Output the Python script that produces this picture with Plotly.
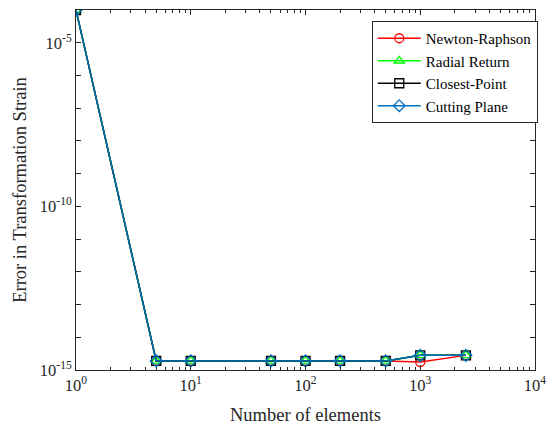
import plotly.graph_objects as go

elements = [1, 5, 10, 50, 100, 200, 500, 1000, 2500]
newton_raphson = [1e-4, 1.9e-15, 1.9e-15, 1.9e-15, 1.9e-15, 1.9e-15, 1.9e-15, 1.75e-15, 2.8e-15]
radial_return = [1e-4, 1.9e-15, 1.9e-15, 1.9e-15, 1.9e-15, 1.9e-15, 1.9e-15, 2.8e-15, 2.8e-15]
closest_point = [1e-4, 1.9e-15, 1.9e-15, 1.9e-15, 1.9e-15, 1.9e-15, 1.9e-15, 2.8e-15, 2.8e-15]
cutting_plane = [1e-4, 1.9e-15, 1.9e-15, 1.9e-15, 1.9e-15, 1.9e-15, 1.9e-15, 2.8e-15, 2.8e-15]

series = [
    ("Newton-Raphson", newton_raphson, "#ff0000", "circle-open"),
    ("Radial Return", radial_return, "#00ff00", "triangle-up-open"),
    ("Closest-Point", closest_point, "#000000", "square-open"),
    ("Cutting Plane", cutting_plane, "#0072bd", "diamond-open"),
]

fig = go.Figure()
for name, ys, color, sym in series:
    fig.add_trace(go.Scatter(
        x=elements, y=ys, name=name, mode="lines+markers",
        line=dict(color=color, width=1.5),
        marker=dict(symbol=sym, size=9, color=color, line=dict(width=1.3, color=color)),
    ))

font = "Liberation Serif, Times New Roman, serif"
ytick_vals = [10.0 ** e for e in range(-15, -3)]
ytick_text = ["10<sup>%d</sup>" % e if e in (-15, -10, -5) else "" for e in range(-15, -3)]
xtick_vals = [10.0 ** e for e in range(0, 5)]
xtick_text = ["10<sup>%d</sup>" % e for e in range(0, 5)]
xminor = [m * 10.0 ** e for e in range(0, 4) for m in range(2, 10)]

fig.update_layout(
    width=555, height=432,
    margin=dict(l=76, r=15, t=9, b=62),
    paper_bgcolor="white", plot_bgcolor="white",
    font=dict(family=font, size=16, color="#262626"),
    showlegend=True,
    legend=dict(
        x=1.006, y=0.9695, xanchor="right", yanchor="top",
        bordercolor="#262626", borderwidth=1, bgcolor="white",
        font=dict(family=font, size=15, color="#000000"),
        tracegroupgap=0, itemwidth=43,
    ),
    xaxis=dict(
        type="log", range=[0, 4],
        tickmode="array", tickvals=xtick_vals, ticktext=xtick_text,
        ticks="inside", ticklen=5, tickcolor="#262626",
        showline=True, linecolor="#262626", linewidth=1, mirror="allticks",
        showgrid=False, zeroline=False,
        minor=dict(tickvals=xminor, ticks="inside", ticklen=3, tickcolor="#262626", showgrid=False),
        title=dict(text="Number of elements", font=dict(family=font, size=18.5, color="#262626"), standoff=14),
        tickfont=dict(family=font, size=16.5, color="#262626"),
    ),
    yaxis=dict(
        type="log", range=[-15, -4],
        tickmode="array", tickvals=ytick_vals, ticktext=ytick_text,
        ticks="inside", ticklen=5, tickcolor="#262626",
        showline=True, linecolor="#262626", linewidth=1, mirror="allticks",
        showgrid=False, zeroline=False,
        title=dict(text="Error in Transformation Strain", font=dict(family=font, size=18.5, color="#262626"), standoff=8),
        tickfont=dict(family=font, size=16.5, color="#262626"),
    ),
)

fig.write_html("out.html", config={"displayModeBar": False},
               post_script="document.body.style.margin='0';")
